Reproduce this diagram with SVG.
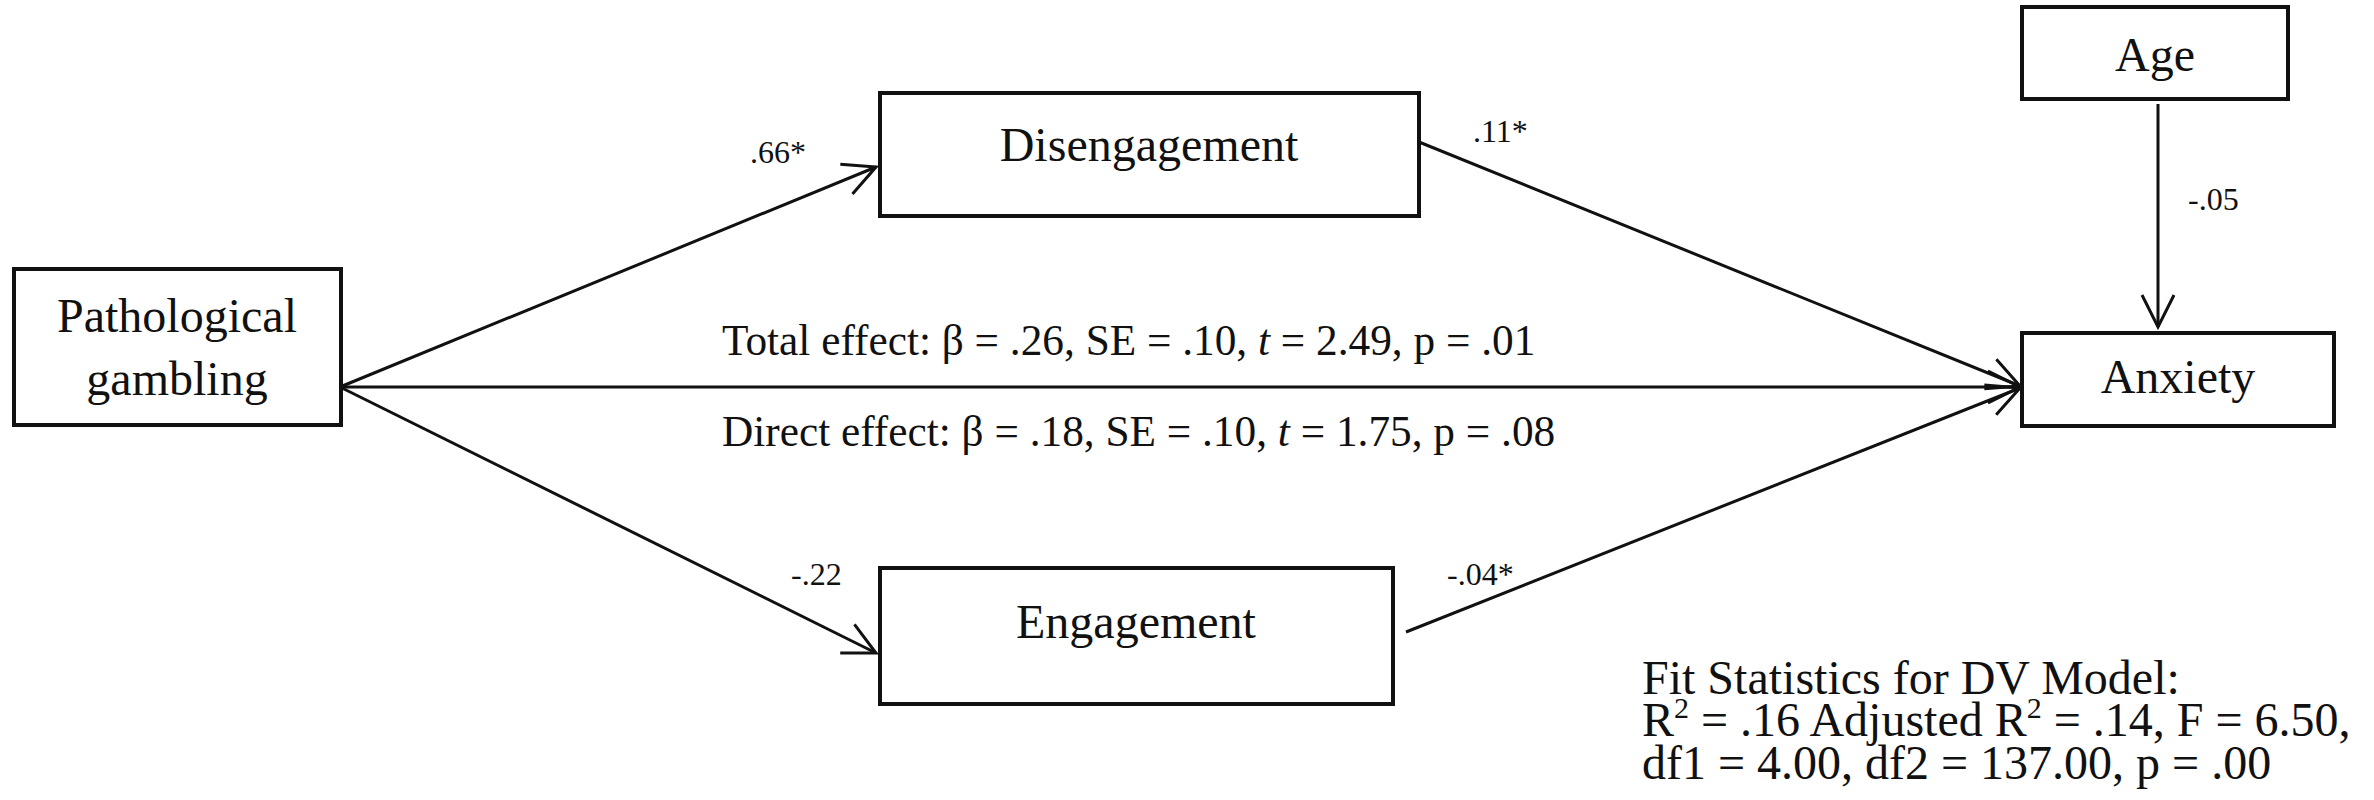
<svg xmlns="http://www.w3.org/2000/svg" width="2374" height="800" viewBox="0 0 2374 800">
  <style>
    .box { fill: #ffffff; stroke: #111111; stroke-width: 4; }
    .node-label { font-family: "Liberation Serif", "Times New Roman", serif; font-size: 48px; fill: #111111; text-anchor: middle; }
    .edge { stroke: #111111; stroke-width: 3; fill: none; marker-end: url(#open-arrow); }
    .coef { font-family: "Liberation Serif", "Times New Roman", serif; font-size: 32px; fill: #111111; }
    .effect { font-family: "Liberation Serif", "Times New Roman", serif; font-size: 43.3px; fill: #111111; }
    .fit { font-family: "Liberation Serif", "Times New Roman", serif; font-size: 48px; fill: #111111; }
  </style>
  <defs>
    <marker id="open-arrow" markerUnits="userSpaceOnUse" markerWidth="40" markerHeight="40" refX="0" refY="0" orient="auto" overflow="visible">
      <path d="M-32,-16 L0,0 L-32,16" fill="none" stroke="#111111" stroke-width="3"/>
    </marker>
  </defs>
  <rect width="2374" height="800" fill="#ffffff"/>

  <!-- paths between variables -->
  <g id="connectors">
    <line class="edge" x1="340" y1="387" x2="876" y2="167"/>
    <line class="edge" x1="340" y1="387" x2="876" y2="653"/>
    <line class="edge" x1="340" y1="387" x2="2020" y2="387"/>
    <line class="edge" x1="1419" y1="142" x2="2020" y2="386"/>
    <line class="edge" x1="1406" y1="632" x2="2020" y2="388"/>
    <line class="edge" x1="2158" y1="104" x2="2158" y2="327"/>
  </g>

  <!-- path coefficients -->
  <g id="coefficients">
    <text class="coef" x="750" y="163">.66*</text>
    <text class="coef" x="791" y="585">-.22</text>
    <text class="coef" x="1473" y="142">.11*</text>
    <text class="coef" x="1447" y="585">-.04*</text>
    <text class="coef" x="2188" y="210">-.05</text>
  </g>

  <g id="effects">
    <text class="effect" x="722" y="355">Total effect: β = .26, SE = .10, <tspan font-style="italic">t</tspan> = 2.49, p = .01</text>
    <text class="effect" x="722" y="446">Direct effect: β = .18, SE = .10, <tspan font-style="italic">t</tspan> = 1.75, p = .08</text>
  </g>

  <g id="node-pathological-gambling">
    <rect class="box" x="14" y="269" width="327" height="156"/>
    <text class="node-label" x="177" y="332">Pathological</text>
    <text class="node-label" x="177" y="395">gambling</text>
  </g>

  <g id="node-disengagement">
    <rect class="box" x="880" y="93" width="539" height="123"/>
    <text class="node-label" x="1149" y="161" font-size="53">Disengagement</text>
  </g>

  <g id="node-engagement">
    <rect class="box" x="880" y="568" width="513" height="136"/>
    <text class="node-label" x="1136" y="638" font-size="52">Engagement</text>
  </g>

  <g id="node-age">
    <rect class="box" x="2022" y="7" width="266" height="92"/>
    <text class="node-label" x="2155" y="71">Age</text>
  </g>

  <g id="node-anxiety">
    <rect class="box" x="2022" y="333" width="312" height="93"/>
    <text class="node-label" x="2178" y="393">Anxiety</text>
  </g>

  <g id="fit-statistics">
    <text class="fit" x="1642" y="694">Fit Statistics for DV Model:</text>
    <text class="fit" x="1642" y="736">R<tspan font-size="30" dy="-18">2</tspan><tspan dy="18"> = .16 Adjusted R</tspan><tspan font-size="30" dy="-18">2</tspan><tspan dy="18"> = .14, F = 6.50,</tspan></text>
    <text class="fit" x="1642" y="779">df1 = 4.00, df2 = 137.00, p = .00</text>
  </g>
</svg>
